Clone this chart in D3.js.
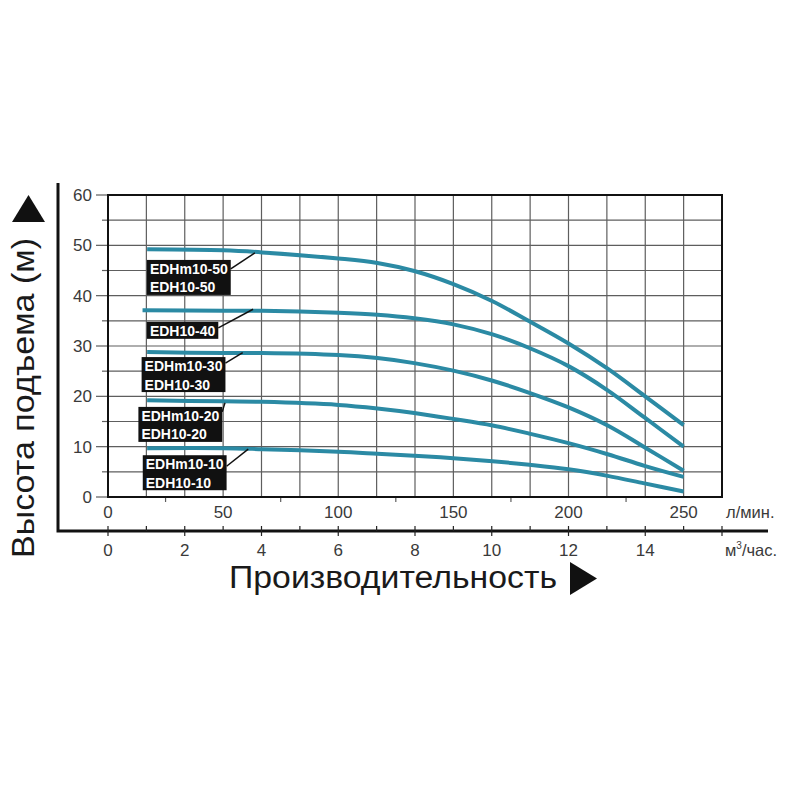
<!DOCTYPE html>
<html>
<head>
<meta charset="utf-8">
<script src="https://cdn.jsdelivr.net/npm/d3@7"></script>
<style>
  body { margin: 0; background: #fff; }
  svg { display: block; font-family: "Liberation Sans", Arial, sans-serif; }
</style>
</head>
<body>
<svg id="chart" width="800" height="800"></svg>
<script>
"use strict";

// flow points, l/min
const flowPoints = [17, 50, 67, 100, 117, 133, 150, 167, 183, 200, 217, 233, 250];
const flowPoints40 = [15, 50, 67, 100, 117, 133, 150, 167, 183, 200, 217, 233, 250];

// head, m
const head50 = [49.2, 49.0, 48.6, 47.4, 46.5, 44.9, 42.3, 38.9, 34.9, 30.5, 25.5, 20.1, 14.3];
const head40 = [37.1, 37.0, 37.0, 36.6, 36.2, 35.5, 34.3, 32.3, 29.6, 26.0, 21.2, 15.8, 10.0];
const head30 = [28.8, 28.6, 28.6, 28.2, 27.6, 26.6, 25.1, 23.1, 20.7, 17.8, 14.2, 9.9, 5.2];
const head20 = [19.2, 19.0, 18.9, 18.3, 17.6, 16.7, 15.5, 14.2, 12.6, 10.7, 8.5, 6.2, 4.0];
const head10 = [9.7, 9.7, 9.5, 9.0, 8.6, 8.2, 7.7, 7.1, 6.4, 5.5, 4.2, 2.7, 1.1];

const models = [
    ["EDHm10-50", "EDH10-50"],
    ["EDH10-40"],
    ["EDHm10-30", "EDH10-30"],
    ["EDHm10-20", "EDH10-20"],
    ["EDHm10-10", "EDH10-10"]
];

const headTicks = [0, 10, 20, 30, 40, 50, 60];
const flowTicks = [0, 50, 100, 150, 200, 250];
const m3Ticks = [0, 2, 4, 6, 8, 10, 12, 14];

const yTitle = "Высота подъема (м)";
const xTitle = "Производительность";
const flowUnit = "л/мин.";

const series = [
    {x: flowPoints, y: head50},
    {x: flowPoints40, y: head40},
    {x: flowPoints, y: head30},
    {x: flowPoints, y: head20},
    {x: flowPoints, y: head10}
];

const svg = d3.select("#chart");

const x = d3.scaleLinear().domain([0, 16 * 1000 / 60]).range([108, 722]);
const xm3 = d3.scaleLinear().domain([0, 16]).range([108, 722]);
const y = d3.scaleLinear().domain([0, 60]).range([497, 195]);

const LINE_COLOR = "#2b8aa4";
const GRID_COLOR = "#5e5e5e";

// grid
const grid = svg.append("g");
grid.selectAll(".vgrid")
    .data(d3.range(1, 16))
    .enter().append("line")
    .attr("x1", d => xm3(d)).attr("x2", d => xm3(d))
    .attr("y1", y(0)).attr("y2", y(60))
    .attr("stroke", GRID_COLOR).attr("stroke-width", 1.2);
grid.selectAll(".hgrid")
    .data(d3.range(5, 60, 5))
    .enter().append("line")
    .attr("x1", x(0)).attr("x2", x.range()[1])
    .attr("y1", d => y(d)).attr("y2", d => y(d))
    .attr("stroke", GRID_COLOR).attr("stroke-width", 1.2);

// y ticks outside the plot
grid.selectAll(".ytick")
    .data(d3.range(0, 61, 5))
    .enter().append("line")
    .attr("x1", d => d % 10 === 0 ? 96 : 102).attr("x2", x(0))
    .attr("y1", d => y(d)).attr("y2", d => y(d))
    .attr("stroke", GRID_COLOR).attr("stroke-width", 1.2);

// l/min ticks
grid.selectAll(".xtick")
    .data(d3.range(25, 251, 50))
    .enter().append("line")
    .attr("x1", d => x(d)).attr("x2", d => x(d))
    .attr("y1", y(0)).attr("y2", y(0) + 5)
    .attr("stroke", GRID_COLOR).attr("stroke-width", 1.2);

// plot frame
svg.append("rect")
    .attr("x", x(0)).attr("y", y(60))
    .attr("width", x.range()[1] - x(0)).attr("height", y(0) - y(60))
    .attr("fill", "none").attr("stroke", "#111").attr("stroke-width", 2);

// y labels
svg.append("g").selectAll("text")
    .data(headTicks)
    .enter().append("text")
    .attr("x", 92).attr("y", d => y(d) + 6)
    .attr("text-anchor", "end")
    .attr("font-size", 17).attr("fill", "#3a3a3a")
    .text(d => d);

// l/min labels
svg.append("g").selectAll("text")
    .data(flowTicks)
    .enter().append("text")
    .attr("x", d => x(d)).attr("y", 518)
    .attr("text-anchor", "middle")
    .attr("font-size", 17).attr("fill", "#3a3a3a")
    .text(d => d);
svg.append("text")
    .attr("x", 726).attr("y", 518)
    .attr("font-size", 16.5).attr("fill", "#3a3a3a")
    .text(flowUnit);

// outer L frame
svg.append("path")
    .attr("d", "M58,183V531H768")
    .attr("fill", "none").attr("stroke", "#111").attr("stroke-width", 3);

// m3/h axis ticks
svg.append("g").selectAll("line")
    .data(d3.range(0, 17))
    .enter().append("line")
    .attr("x1", d => xm3(d)).attr("x2", d => xm3(d))
    .attr("y1", 526).attr("y2", d => d % 2 === 0 ? 536 : 531)
    .attr("stroke", "#222").attr("stroke-width", 1.2);
svg.append("g").selectAll("text")
    .data(m3Ticks)
    .enter().append("text")
    .attr("x", d => xm3(d)).attr("y", 556)
    .attr("text-anchor", "middle")
    .attr("font-size", 17).attr("fill", "#3a3a3a")
    .text(d => d);
const m3Label = svg.append("text")
    .attr("x", 725).attr("y", 556)
    .attr("font-size", 16.5).attr("fill", "#3a3a3a");
m3Label.append("tspan").text("м");
m3Label.append("tspan").attr("font-size", 10).attr("dy", -7).text("3");
m3Label.append("tspan").attr("dy", 7).text("/час.");

// curves
const line = d3.line()
    .x(d => x(d[0]))
    .y(d => y(d[1]))
    .curve(d3.curveCatmullRom.alpha(0.5));
svg.append("g").selectAll("path")
    .data(series)
    .enter().append("path")
    .attr("d", s => line(s.x.map((v, i) => [v, s.y[i]])))
    .attr("fill", "none")
    .attr("stroke", LINE_COLOR)
    .attr("stroke-width", 4);

// labels: box top-left and leader target in data units
const labelSpots = [
    {box: [16.9, 47.1], to: [63.8, 48.5], dy: 9},
    {box: [16.9, 34.8], to: [63.0, 37.3], dy: 6},
    {box: [14.6, 27.8], to: [58.5, 28.7], dy: 6},
    {box: [13.2, 17.9], to: [50.8, 18.7], dy: 5},
    {box: [15.1, 8.3], to: [60.9, 9.5], dy: 11}
];

const labels = svg.append("g");
models.forEach((lines, i) => {
    const spot = labelSpots[i];
    const bx = x(spot.box[0]);
    const by = y(spot.box[1]);
    const g = labels.append("g");
    const box = g.append("rect").attr("fill", "#111");
    const texts = g.selectAll("text")
        .data(lines)
        .enter().append("text")
        .attr("x", bx + 3)
        .attr("y", (d, j) => by + 14 + j * 18.5)
        .attr("font-size", 14).attr("font-weight", "bold")
        .attr("fill", "#fff")
        .text(d => d);
    let w = 0;
    texts.each(function() { w = Math.max(w, this.getComputedTextLength()); });
    const bw = w + 6;
    const bh = lines.length === 1 ? 17 : 35;
    box.attr("x", bx).attr("y", by).attr("width", bw).attr("height", bh);
    g.append("line")
        .attr("x1", bx + bw).attr("y1", by + spot.dy)
        .attr("x2", x(spot.to[0])).attr("y2", y(spot.to[1]))
        .attr("stroke", "#111").attr("stroke-width", 1.5);
});

// axis titles
svg.append("text")
    .attr("x", 229).attr("y", 588)
    .attr("font-size", 31).attr("fill", "#1a1a1a")
    .attr("textLength", 328).attr("lengthAdjust", "spacingAndGlyphs")
    .text(xTitle);
svg.append("path")
    .attr("d", "M570,562L597,578.5L570,595Z")
    .attr("fill", "#111");

svg.append("text")
    .attr("transform", "translate(34,558) rotate(-90)")
    .attr("font-size", 31).attr("fill", "#1a1a1a")
    .attr("textLength", 320).attr("lengthAdjust", "spacingAndGlyphs")
    .text(yTitle);
svg.append("path")
    .attr("d", "M12,222L28.5,195L45,222Z")
    .attr("fill", "#111");
</script>
</body>
</html>
